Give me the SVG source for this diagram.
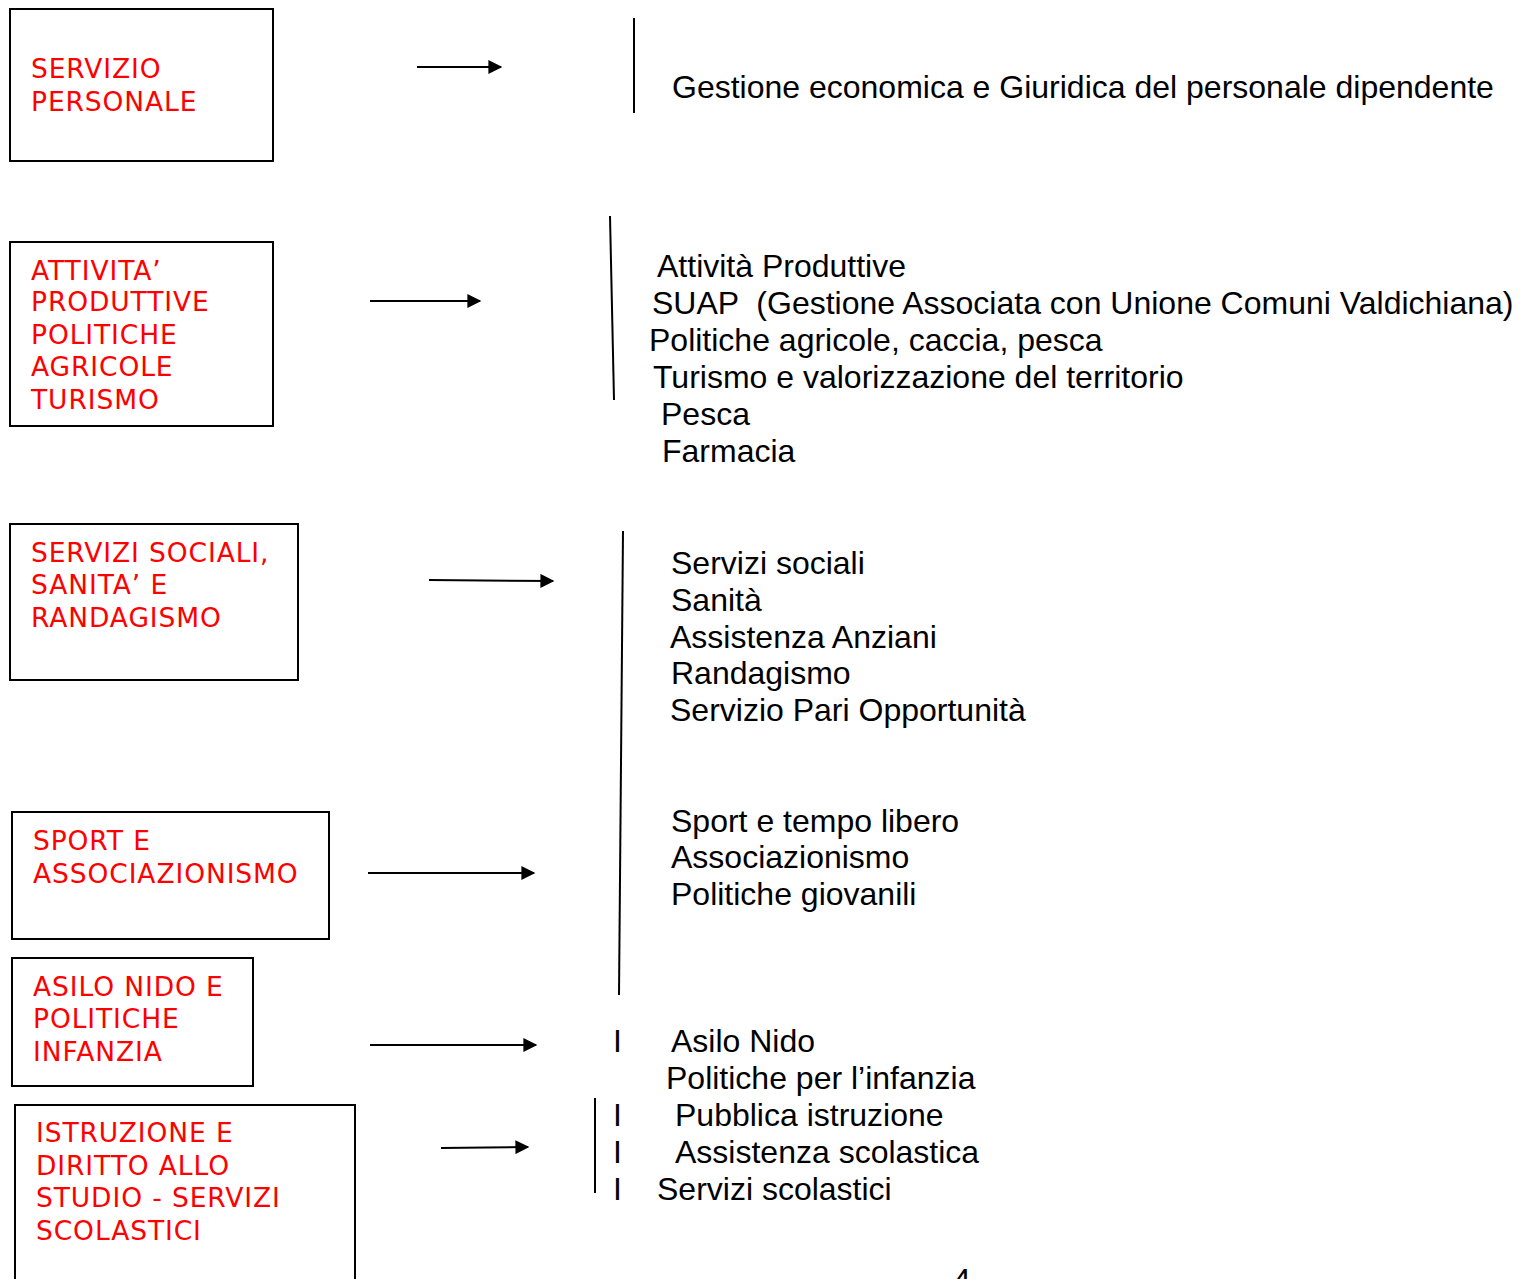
<svg xmlns="http://www.w3.org/2000/svg" width="1523" height="1279" viewBox="0 0 1523 1279">
<style>
.box{fill:#fff;stroke:#000;stroke-width:2}
.red{font-family:"DejaVu Sans",Verdana,sans-serif;font-size:26.5px;fill:#ff0000;letter-spacing:0.9px}
.blk{font-family:"Liberation Sans",Arial,sans-serif;font-size:32px;fill:#000}
.ln{stroke:#000;stroke-width:2;fill:none}
.arr{stroke:#000;stroke-width:2;fill:none;marker-end:url(#ah)}
</style>
<defs>
<marker id="ah" viewBox="0 0 10 10" refX="9" refY="5" markerWidth="8" markerHeight="7" markerUnits="strokeWidth" orient="auto">
<path d="M0,0 L10,5 L0,10 Z" fill="#000"/>
</marker>
</defs>
<rect width="1523" height="1279" fill="#fff"/>
<g id="node-personale">
<rect class="box" x="10" y="9" width="263" height="152"/>
<text class="red" x="31" y="78">SERVIZIO</text>
<text class="red" x="31" y="111">PERSONALE</text>
</g>
<g id="node-attivita">
<rect class="box" x="10" y="242" width="263" height="184"/>
<text class="red" x="31" y="280">ATTIVITA’</text>
<text class="red" x="31" y="311">PRODUTTIVE</text>
<text class="red" x="31" y="344">POLITICHE</text>
<text class="red" x="31" y="376">AGRICOLE</text>
<text class="red" x="31" y="409">TURISMO</text>
</g>
<g id="node-sociali">
<rect class="box" x="10" y="524" width="288" height="156"/>
<text class="red" x="31" y="562">SERVIZI SOCIALI,</text>
<text class="red" x="31" y="594">SANITA’ E</text>
<text class="red" x="31" y="627">RANDAGISMO</text>
</g>
<g id="node-sport">
<rect class="box" x="12" y="812" width="317" height="127"/>
<text class="red" x="33" y="850">SPORT E</text>
<text class="red" x="33" y="883">ASSOCIAZIONISMO</text>
</g>
<g id="node-asilo">
<rect class="box" x="12" y="958" width="241" height="128"/>
<text class="red" x="33" y="996">ASILO NIDO E</text>
<text class="red" x="33" y="1028">POLITICHE</text>
<text class="red" x="33" y="1061">INFANZIA</text>
</g>
<g id="node-istruzione">
<rect class="box" x="15" y="1105" width="340" height="190"/>
<text class="red" x="36" y="1142">ISTRUZIONE E</text>
<text class="red" x="36" y="1175">DIRITTO ALLO</text>
<text class="red" x="36" y="1207">STUDIO - SERVIZI</text>
<text class="red" x="36" y="1240">SCOLASTICI</text>
</g>
<g id="connectors">
<line class="arr" x1="417" y1="67" x2="501" y2="67"/>
<line class="arr" x1="370" y1="301" x2="480" y2="301"/>
<line class="arr" x1="429" y1="580" x2="553" y2="581"/>
<line class="arr" x1="368" y1="873" x2="534" y2="873"/>
<line class="arr" x1="370" y1="1045" x2="536" y2="1045"/>
<line class="arr" x1="441" y1="1148" x2="528" y2="1147"/>
<line class="ln" x1="634" y1="18" x2="634" y2="113"/>
<line class="ln" x1="610" y1="216" x2="614" y2="400"/>
<line class="ln" x1="623" y1="531" x2="619" y2="995"/>
<line class="ln" x1="595" y1="1098" x2="595" y2="1193"/>
</g>
<g id="lists">
<text class="blk" x="672" y="98">Gestione economica e Giuridica del personale dipendente</text>
<text class="blk" x="657" y="277">Attività Produttive</text>
<text class="blk" x="652" y="314" xml:space="preserve">SUAP  (Gestione Associata con Unione Comuni Valdichiana)</text>
<text class="blk" x="649" y="351">Politiche agricole, caccia, pesca</text>
<text class="blk" x="653" y="388">Turismo e valorizzazione del territorio</text>
<text class="blk" x="661" y="425">Pesca</text>
<text class="blk" x="662" y="462">Farmacia</text>
<text class="blk" x="671" y="574">Servizi sociali</text>
<text class="blk" x="671" y="611">Sanità</text>
<text class="blk" x="670" y="648">Assistenza Anziani</text>
<text class="blk" x="671" y="684">Randagismo</text>
<text class="blk" x="670" y="721">Servizio Pari Opportunità</text>
<text class="blk" x="671" y="832">Sport e tempo libero</text>
<text class="blk" x="671" y="868">Associazionismo</text>
<text class="blk" x="671" y="905">Politiche giovanili</text>
<text class="blk" x="613" y="1052">I</text>
<text class="blk" x="671" y="1052">Asilo Nido</text>
<text class="blk" x="666" y="1089">Politiche per l’infanzia</text>
<text class="blk" x="613" y="1126">I</text>
<text class="blk" x="675" y="1126">Pubblica istruzione</text>
<text class="blk" x="613" y="1163">I</text>
<text class="blk" x="675" y="1163">Assistenza scolastica</text>
<text class="blk" x="613" y="1200">I</text>
<text class="blk" x="657" y="1200">Servizi scolastici</text>
<text class="blk" x="953" y="1291">4</text>
</g>
</svg>
